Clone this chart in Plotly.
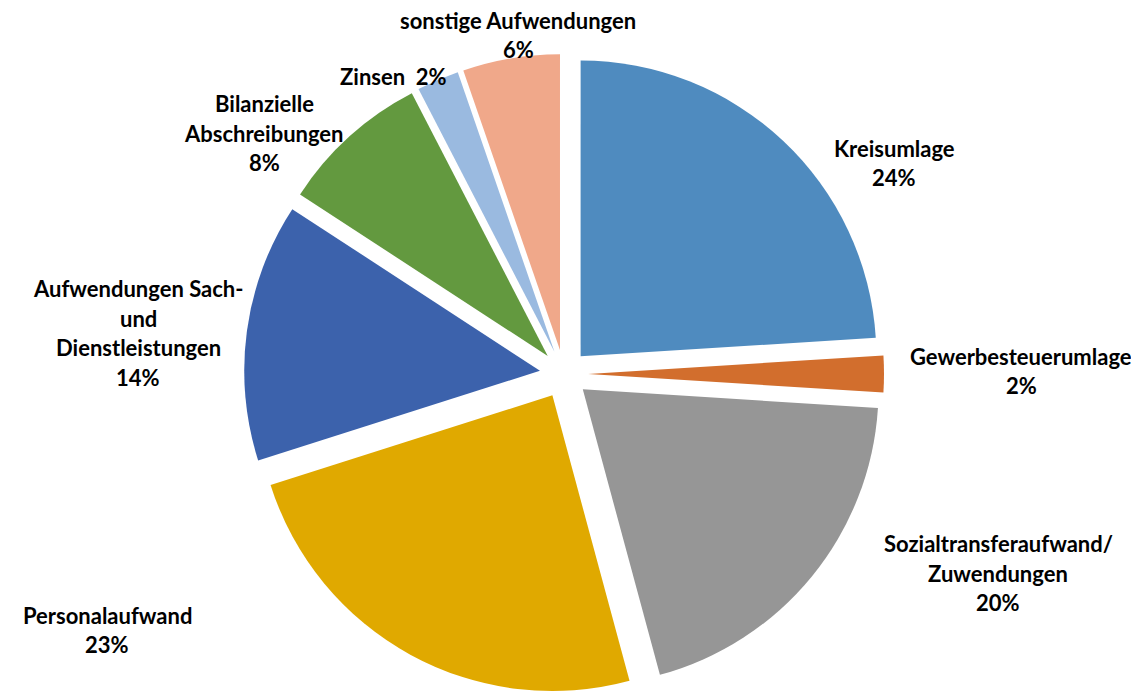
import plotly.graph_objects as go

# Aufwendungen - Anteile (Reihenfolge im Uhrzeigersinn ab 12 Uhr)
kategorien = ["Kreisumlage", "Gewerbesteuerumlage", "Sozialtransferaufwand/ Zuwendungen",
              "Personalaufwand", "Aufwendungen Sach- und Dienstleistungen",
              "Bilanzielle Abschreibungen", "Zinsen", "sonstige Aufwendungen"]
anteile = [24.0, 2.0, 19.8, 24.3, 14.1, 8.2, 2.3, 5.3]
prozent_text = ["24%", "2%", "20%", "23%", "14%", "8%", "2%", "6%"]
beschriftung = [
    ["Kreisumlage"],
    ["Gewerbesteuerumlage"],
    ["Sozialtransferaufwand/", "Zuwendungen"],
    ["Personalaufwand"],
    ["Aufwendungen Sach-", "und", "Dienstleistungen"],
    ["Bilanzielle", "Abschreibungen"],
    ["Zinsen  "],
    ["sonstige Aufwendungen"],
]

farben = ["#4F8BBF", "#D26E2D", "#969696", "#E0A900",
          "#3C62AC", "#63993F", "#9ABAE0", "#F0A88A"]

W, H = 1139, 691

fig = go.Figure()
fig.add_trace(go.Pie(
    labels=kategorien,
    values=anteile,
    sort=False,
    direction="clockwise",
    rotation=0,
    pull=[0.082] * len(anteile),
    marker=dict(colors=farben, line=dict(width=0)),
    textinfo="none",
    hoverinfo="label+percent",
    showlegend=False,
    domain=dict(x=[236 / W, 876 / W], y=[0.0072, 0.9334]),
))

# Position der Beschriftungen (Mitte des Textblocks, in Pixeln)
label_pos = [(886, 155), (1013, 363), (990, 565), (99, 622),
             (130, 325), (256, 125), (385, 68), (510, 27)]
zeilen_abstand = 29.5

for i, (x, y) in enumerate(label_pos):
    zeilen = list(beschriftung[i])
    if kategorien[i] == "Zinsen":
        zeilen = [zeilen[0] + prozent_text[i]]
    else:
        zeilen.append(prozent_text[i])
    n = len(zeilen)
    for k, z in enumerate(zeilen):
        fig.add_annotation(
            x=x / W, y=1 - y / H, xref="paper", yref="paper",
            text=z, showarrow=False, xanchor="center", yanchor="middle",
            yshift=-(k - (n - 1) / 2) * zeilen_abstand,
            font=dict(family="Lato", size=22, color="#000000", weight="bold"),
        )

fig.update_layout(
    width=W, height=H,
    margin=dict(l=0, r=0, t=0, b=0),
    paper_bgcolor="white",
    plot_bgcolor="white",
)

fig.write_html("out.html")
